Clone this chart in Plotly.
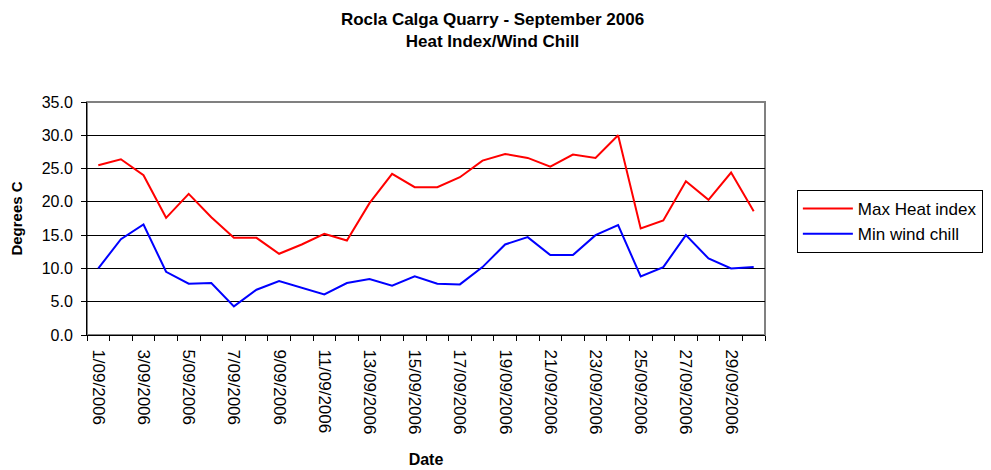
import plotly.graph_objects as go

dates = [f"{d}/09/2006" for d in range(1, 31)]
max_heat_index = [25.5, 26.4, 24.0, 17.6, 21.2, 17.7, 14.6, 14.6, 12.2, 13.6,
                  15.2, 14.2, 19.8, 24.2, 22.2, 22.2, 23.7, 26.2, 27.2, 26.6,
                  25.3, 27.1, 26.6, 30.0, 16.0, 17.2, 23.1, 20.3, 24.4, 18.6]
min_wind_chill = [10.0, 14.4, 16.6, 9.5, 7.7, 7.8, 4.3, 6.8, 8.1, 7.1,
                  6.1, 7.8, 8.4, 7.4, 8.8, 7.7, 7.6, 10.2, 13.6, 14.7,
                  12.0, 12.0, 15.0, 16.5, 8.8, 10.2, 15.0, 11.5, 10.0, 10.2]
y_ticks = [0, 5, 10, 15, 20, 25, 30, 35]

xi = list(range(1, len(dates) + 1))
FONT = "Liberation Sans, Arial, sans-serif"

fig = go.Figure()
fig.add_trace(go.Scatter(x=xi, y=max_heat_index, mode="lines", name="Max Heat index",
                         line=dict(color="#FF0000", width=2)))
fig.add_trace(go.Scatter(x=xi, y=min_wind_chill, mode="lines", name="Min wind chill",
                         line=dict(color="#0000FF", width=2)))

fig.update_layout(
    width=991, height=470,
    margin=dict(l=87, r=226, t=102, b=135, autoexpand=False),
    paper_bgcolor="white", plot_bgcolor="white",
    font=dict(family=FONT, color="black", size=16),
    title=dict(text="<b>Rocla Calga Quarry - September 2006<br>Heat Index/Wind Chill</b>",
               x=0.497, xanchor="center", yref="container", y=0.947, yanchor="top",
               automargin=False,
               font=dict(family=FONT, size=17, color="black")),
    legend=dict(x=1.047, xanchor="left", y=0.622, yanchor="top",
                bordercolor="black", borderwidth=1, bgcolor="white",
                itemwidth=50,
                font=dict(family=FONT, size=17), tracegroupgap=2),
    showlegend=True,
)

fig.update_xaxes(
    automargin=False,
    range=[0.5, len(dates) + 0.5],
    tickmode="array", tickvals=xi[::2], ticktext=dates[::2],
    tickangle=90, ticks="", tickfont=dict(size=17),
    ticklabelstandoff=10,
    showgrid=False, zeroline=False,
    showline=True, linecolor="black", linewidth=1,
    minor=dict(tickmode="linear", tick0=0.5, dtick=1, ticks="outside",
               ticklen=5, tickcolor="black", showgrid=False),
    title=dict(text="<b>Date</b>", font=dict(size=16), standoff=20),
)
fig.update_yaxes(
    automargin=False,
    range=[0, 35], tickmode="array", tickvals=y_ticks, tickformat=".1f",
    ticks="outside", ticklen=5, tickcolor="black", tickfont=dict(size=16),
    ticklabelstandoff=5,
    showgrid=True, gridcolor="black", gridwidth=1, zeroline=False,
    showline=True, linecolor="black", linewidth=1,
    title=dict(text="<b>Degrees C</b>", font=dict(size=15), standoff=15),
)

fig.add_shape(type="rect", xref="paper", yref="paper", x0=0, x1=1, y0=0, y1=1,
              line=dict(color="#808080", width=2), layer="below")

fig.write_html("out.html", config={"displayModeBar": False},
               post_script="document.body.style.margin='0px';")
